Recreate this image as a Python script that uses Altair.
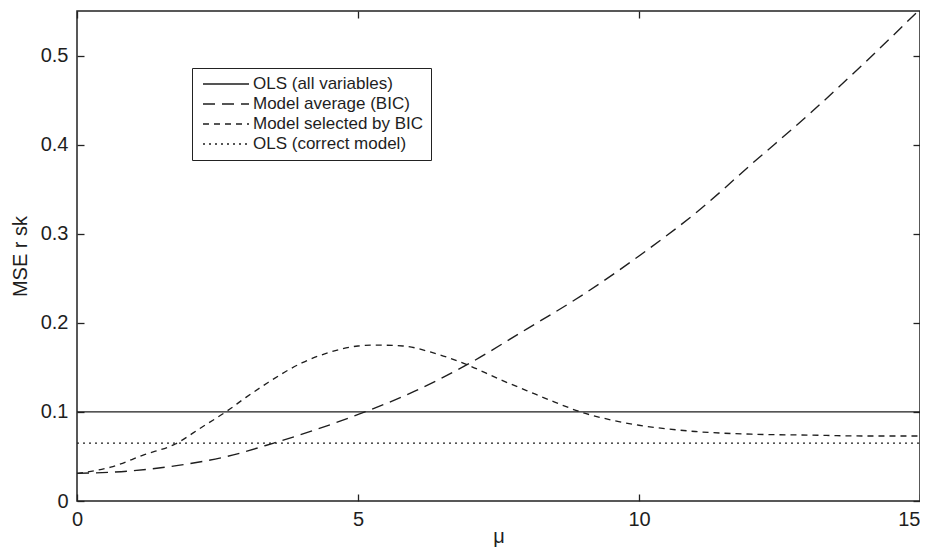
import altair as alt
import pandas as pd

series_names = ["OLS (all variables)", "Model average (BIC)", "Model selected by BIC", "OLS (correct model)"]

ols_all_mu = [0, 15]
ols_all_risk = [0.1, 0.1]

avg_mu = [0, 1, 1.8, 2.67, 3.5, 4.2, 5.04, 6, 6.94, 8, 8.84, 10, 11.1, 12, 13.06, 14, 15]
avg_risk = [0.031, 0.034, 0.040, 0.050, 0.065, 0.079, 0.098, 0.123, 0.153, 0.193, 0.225, 0.275, 0.328, 0.378, 0.436, 0.491, 0.552]

sel_mu = [0, 0.6, 1.2, 1.75, 2.2, 2.67, 3.0, 3.4, 4.0, 4.5, 5.0, 5.3, 5.8, 6.3, 6.94, 7.54, 8.0, 8.5, 8.96, 9.5, 10.0, 10.5, 11.0, 12.0, 13.0, 14.0, 15.0]
sel_risk = [0.031, 0.038, 0.052, 0.064, 0.082, 0.101, 0.116, 0.133, 0.155, 0.167, 0.174, 0.175, 0.174, 0.167, 0.153, 0.136, 0.124, 0.111, 0.100, 0.091, 0.085, 0.081, 0.078, 0.075, 0.074, 0.073, 0.073]

ols_cor_mu = [0, 15]
ols_cor_risk = [0.065, 0.065]

x_ticks = [0, 5, 10, 15]
y_ticks = [0, 0.1, 0.2, 0.3, 0.4, 0.5]

rows = []
for name, mus, vals in [
    (series_names[0], ols_all_mu, ols_all_risk),
    (series_names[1], avg_mu, avg_risk),
    (series_names[2], sel_mu, sel_risk),
    (series_names[3], ols_cor_mu, ols_cor_risk),
]:
    for m, v in zip(mus, vals):
        rows.append({"series": name, "mu": m, "risk": v})
df = pd.DataFrame(rows)

W, H = 843, 490
FONT = "Liberation Sans"
INK = "#1e1e1e"

x_scale = alt.Scale(domain=[0, 15], nice=False, zero=False)
y_scale = alt.Scale(domain=[0, 0.55], nice=False, zero=False)

base = alt.Chart(df)

lines = base.mark_line(interpolate="monotone", color=INK).encode(
    x=alt.X("mu:Q", scale=x_scale,
            axis=alt.Axis(values=x_ticks, title="μ", ticks=False, tickSize=0, domain=False, grid=False,
                          labelPadding=8, labelFlush=False,
                          labelAlign={"condition": {"test": "datum.value == 15", "value": "right"},
                                      "value": "center"},
                          titleBaseline="alphabetic", titleY=41)),
    y=alt.Y("risk:Q", scale=y_scale,
            axis=alt.Axis(values=y_ticks, format="~g", title="MSE r sk", ticks=False, tickSize=0,
                          domain=False, grid=False, labelPadding=9, titlePadding=10)),
    strokeDash=alt.StrokeDash(
        "series:N",
        sort=series_names,
        scale=alt.Scale(domain=series_names, range=[[1, 0], [12, 7], [6, 5], [2, 4]]),
        legend=alt.Legend(title=None, orient="none", legendX=115, legendY=57,
                          symbolType="stroke", symbolSize=2116, symbolStrokeWidth=1.3,
                          symbolStrokeColor=INK, labelFontSize=17, labelFont=FONT,
                          labelColor=INK, labelOffset=3, labelLimit=400,
                          fillColor="white", strokeColor="#222", padding=7,
                          rowPadding=2, clipHeight=18, symbolOffset=3),
    ),
    strokeWidth=alt.StrokeWidth(
        "series:N",
        scale=alt.Scale(domain=series_names, range=[1.4, 1.3, 1.3, 2.2]),
        legend=None,
    ),
)

ticks_a = base.mark_point(opacity=0).encode(
    x=alt.X("mu:Q", scale=x_scale,
            axis=alt.Axis(orient="top", offset=-H, values=x_ticks, labels=False, domain=False,
                          grid=False, ticks=True, tickSize=7, title=None)),
    y=alt.Y("risk:Q", scale=y_scale,
            axis=alt.Axis(orient="right", offset=-W, values=y_ticks, labels=False, domain=False,
                          grid=False, ticks=True, tickSize=7, title=None)),
)

ticks_b = base.mark_point(opacity=0).encode(
    x=alt.X("mu:Q", scale=x_scale,
            axis=alt.Axis(orient="bottom", offset=-H, values=x_ticks, labels=False, domain=False,
                          grid=False, ticks=True, tickSize=7, title=None)),
    y=alt.Y("risk:Q", scale=y_scale,
            axis=alt.Axis(orient="left", offset=-W, values=y_ticks, labels=False, domain=False,
                          grid=False, ticks=True, tickSize=7, title=None)),
)

chart = alt.layer(lines, ticks_a, ticks_b).resolve_axis(
    x="independent", y="independent"
).properties(
    width=W, height=H,
    autosize=alt.AutoSizeParams(type="none"),
    padding={"left": 69, "top": 3, "right": 0, "bottom": 47},
    background="white",
).configure_view(
    stroke="#222", strokeWidth=1.5
).configure_axis(
    labelFont=FONT, labelFontSize=20, labelColor=INK,
    titleFont=FONT, titleFontSize=20, titleColor=INK, titleFontWeight="normal",
    tickColor="#222", tickWidth=1.3,
)

chart.save("out.html", embed_options={"renderer": "svg", "actions": False})
